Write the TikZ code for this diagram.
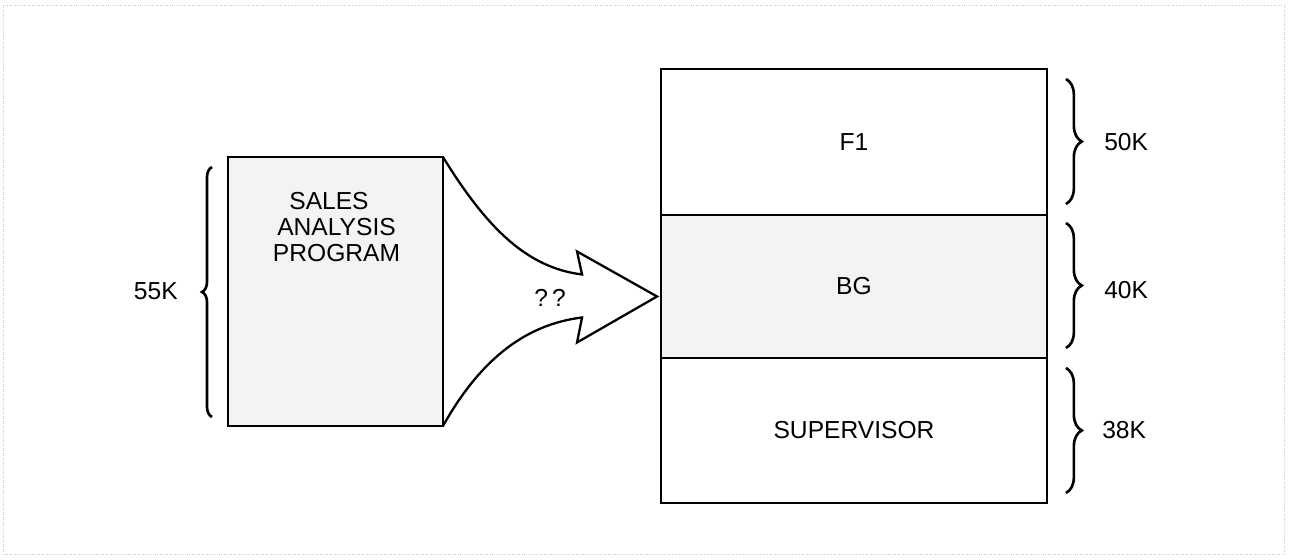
\documentclass[tikz,border=0pt]{standalone}
\usepackage{fontspec}
\setmainfont{Liberation Sans}
\usepackage{tikz}
\usetikzlibrary{
	calc,
	positioning,
	decorations.pathreplacing
}
\definecolor{ScreenGray}{RGB}{243,243,243}
\definecolor{FrameGray}{RGB}{200,200,200}

\begin{document}
\begin{tikzpicture}[x=0.02cm, y=-0.02cm,
		every node/.style={font=\fontsize{14}{15}\selectfont},
		membox/.style={draw, line width=1.6pt, inner sep=0pt, outer sep=0pt, minimum width=7.72cm},
		klabel/.style={inner sep=0pt},
		kbrace/.style={decorate, decoration={brace, amplitude=#1}, line width=1.5pt}]
		\useasboundingbox (0,0) rectangle (1289,559);
		% faint frame of the scan
		\draw[FrameGray, densely dotted, line width=0.4pt] (3,5) rectangle (1284,554);

		% program to be loaded
		\node[draw, line width=1.6pt, fill=ScreenGray, inner sep=0pt, outer sep=0pt,
			minimum width=4.3cm, minimum height=5.38cm] (prog) at (335.5,291.5) {};
		\node[align=center, inner sep=0pt] (progtxt) at ($(prog.north)+(1,70)$)
			{SALES\hspace*{0.3cm}\\ANALYSIS\\PROGRAM};
		\draw[kbrace=5.7pt] ($(prog.south west)+(-16,-9)$) -- ($(prog.north west)+(-16,10)$);
		\node[klabel, left=1cm of prog] (k55) {55K};

		% memory partitions
		\node[membox, minimum height=2.92cm] (f1) at (854,142) {F1};
		\node[membox, fill=ScreenGray, minimum height=2.86cm, below=0pt of f1] (bg) {BG};
		\node[membox, minimum height=2.9cm, below=0pt of bg] (sup) {SUPERVISOR};

		\draw[kbrace=9pt] ($(f1.north east)+(19,10)$) -- ($(f1.south east)+(19,-11)$);
		\draw[kbrace=9pt] ($(bg.north east)+(19,8)$) -- ($(bg.south east)+(19,-10)$);
		\draw[kbrace=9pt] ($(sup.north east)+(19,10)$) -- ($(sup.south east)+(19,-10)$);
		\node[klabel, right=1.14cm of f1] (k50) {50K};
		\node[klabel, right=1.14cm of bg, yshift=-0.08cm] (k40) {40K};
		\node[klabel, right=1.1cm of sup] (k38) {38K};

		% the big arrow
		\coordinate (tip) at ($(bg.west)+(-4,10)$);
		\draw[line width=1.3pt, line join=miter]
			(prog.north east) .. controls +(42,68) and +(-57,-7) .. ($(tip)+(-75,-22)$)
			-- ($(tip)+(-80,-45)$) -- (tip) -- ($(tip)+(-80,46)$) -- ($(tip)+(-75,21)$)
			.. controls +(-57,7) and +(37,-66) .. (prog.south east);
		\node (qq) at ($(prog.east)+(107,6)$) {?\,?};
	\end{tikzpicture}
\end{document}
